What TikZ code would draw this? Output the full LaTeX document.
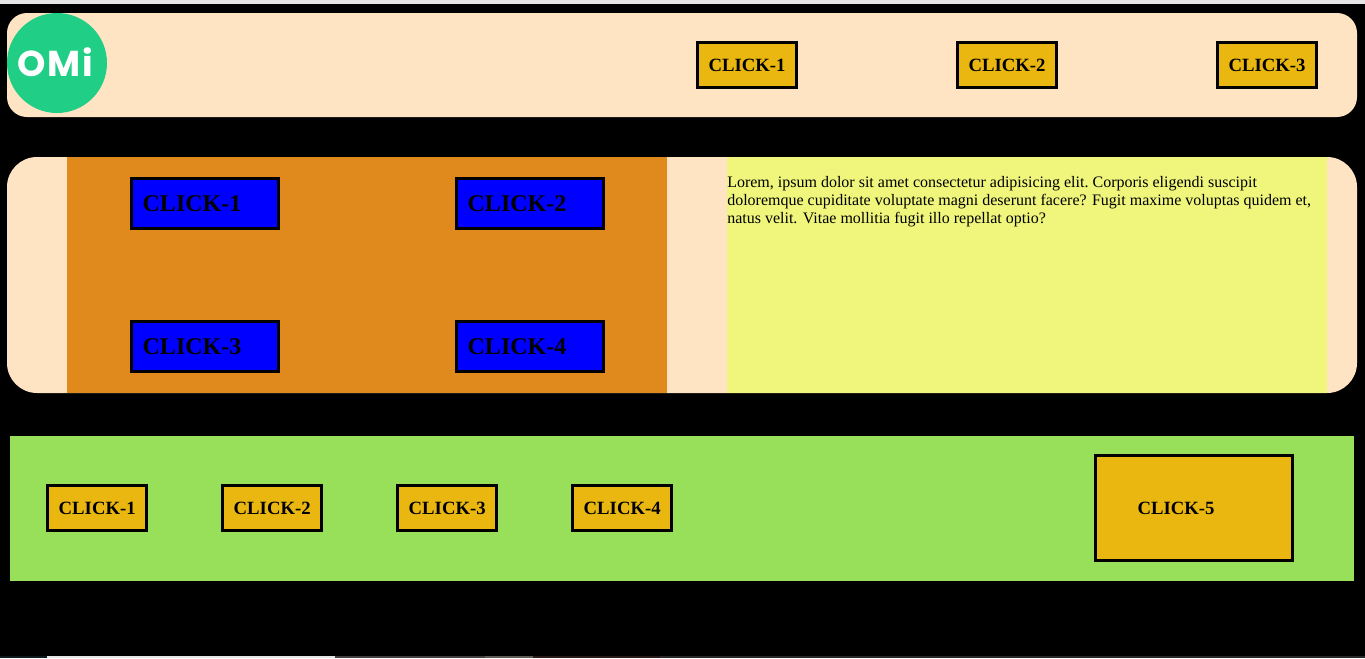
\documentclass[tikz,border=0pt]{standalone}
\usepackage{fontspec}
\usepackage{xcolor}
\setmainfont{Liberation Serif}
\newfontfamily\logofont[LetterSpace=5]{Poppins}
\definecolor{pagepeach}{HTML}{FFE4C4}
\definecolor{panelorange}{HTML}{E08A1E}
\definecolor{panelyellow}{HTML}{F0F67C}
\definecolor{panelgreen}{HTML}{98DF5A}
\definecolor{buttongold}{HTML}{EAB710}
\definecolor{logogreen}{HTML}{20CE86}
\definecolor{stripteal}{HTML}{0C1A1C}
\definecolor{stripgray}{HTML}{454040}
\definecolor{striplight}{HTML}{5F5C58}
\definecolor{stripbrown}{HTML}{2A1A1A}
\definecolor{stripdark}{HTML}{2A2A2A}
\tikzset{
  band/.style={fill=pagepeach,draw=none},
  goldbutton/.style={draw=black,line width=2.25pt,fill=buttongold,font=\fontsize{14.04}{16}\selectfont\bfseries,inner sep=0pt,minimum width=74.25pt,minimum height=33.75pt},
  bluebutton/.style={draw=black,line width=2.25pt,fill=blue,font=\fontsize{18}{20}\selectfont\bfseries,inner sep=0pt,minimum width=110.25pt,minimum height=37.5pt,text width=93.5pt},
  bandtext/.style={font=\fontsize{12}{13.8}\selectfont,align=left,inner sep=0pt,anchor=north west}
}
\begin{document}
\begin{tikzpicture}[x=0.75pt,y=-0.75pt]
  \useasboundingbox (0,0) rectangle (1365,658);
  \fill[black] (0,0) rectangle (1365,658);
  \fill[white!90!black] (0,0) rectangle (1365,4);
  % bottom strip
  \fill[stripteal] (0,656) rectangle (47,658);
  \fill[white!90!black] (47,656) rectangle (335,658);
  \fill[stripgray] (335,656) rectangle (485,658);
  \fill[striplight] (485,656) rectangle (533,658);
  \fill[stripbrown] (533,656) rectangle (660,658);
  \fill[stripdark] (660,656) rectangle (1365,658);
  % top bar
  \fill[band,rounded corners=15pt] (7,13) rectangle (1357,117);
  \node[circle,fill=logogreen,minimum size=75pt,inner sep=0pt] (logo) at (57,63) {};
  \node[text=white,font=\logofont\fontsize{27}{27}\selectfont\bfseries,inner sep=0pt,anchor=base west] (logotext) at (17,76.5) {OMi};
  \node[goldbutton] (topone) at (747,65) {CLICK-1};
  \node[goldbutton] (toptwo) at (1007,65) {CLICK-2};
  \node[goldbutton] (topthree) at (1267,65) {CLICK-3};
  % middle bar
  \fill[band,rounded corners=22.5pt] (7,157) rectangle (1357,393);
  \fill[panelorange] (67,157) rectangle (667,393);
  \fill[panelyellow] (727,157) rectangle (1327,393);
  \node[bluebutton] (midone) at (205,203.5) {CLICK-1};
  \node[bluebutton] (midtwo) at (530,203.5) {CLICK-2};
  \node[bluebutton] (midthree) at (205,346.5) {CLICK-3};
  \node[bluebutton] (midfour) at (530,346.5) {CLICK-4};
  \node[bandtext] (lorem) at (727,175.7) {\frenchspacing Lorem, ipsum dolor sit amet consectetur adipisicing elit. Corporis eligendi suscipit\\doloremque cupiditate voluptate magni deserunt facere? Fugit maxime voluptas quidem et,\\natus velit. Vitae mollitia fugit illo repellat optio?};
  % bottom bar
  \fill[panelgreen] (10,436) rectangle (1354,581);
  \node[goldbutton] (lowone) at (97.2,508) {CLICK-1};
  \node[goldbutton] (lowtwo) at (272.2,508) {CLICK-2};
  \node[goldbutton] (lowthree) at (447.2,508) {CLICK-3};
  \node[goldbutton] (lowfour) at (622.2,508) {CLICK-4};
  \node[goldbutton,minimum width=147.75pt,minimum height=78.75pt] (lowfive) at (1194,508) {};
  \node[font=\fontsize{14.04}{16}\selectfont\bfseries,inner sep=0pt] (lowfivetext) at (1176,508) {CLICK-5};
\end{tikzpicture}
\end{document}
